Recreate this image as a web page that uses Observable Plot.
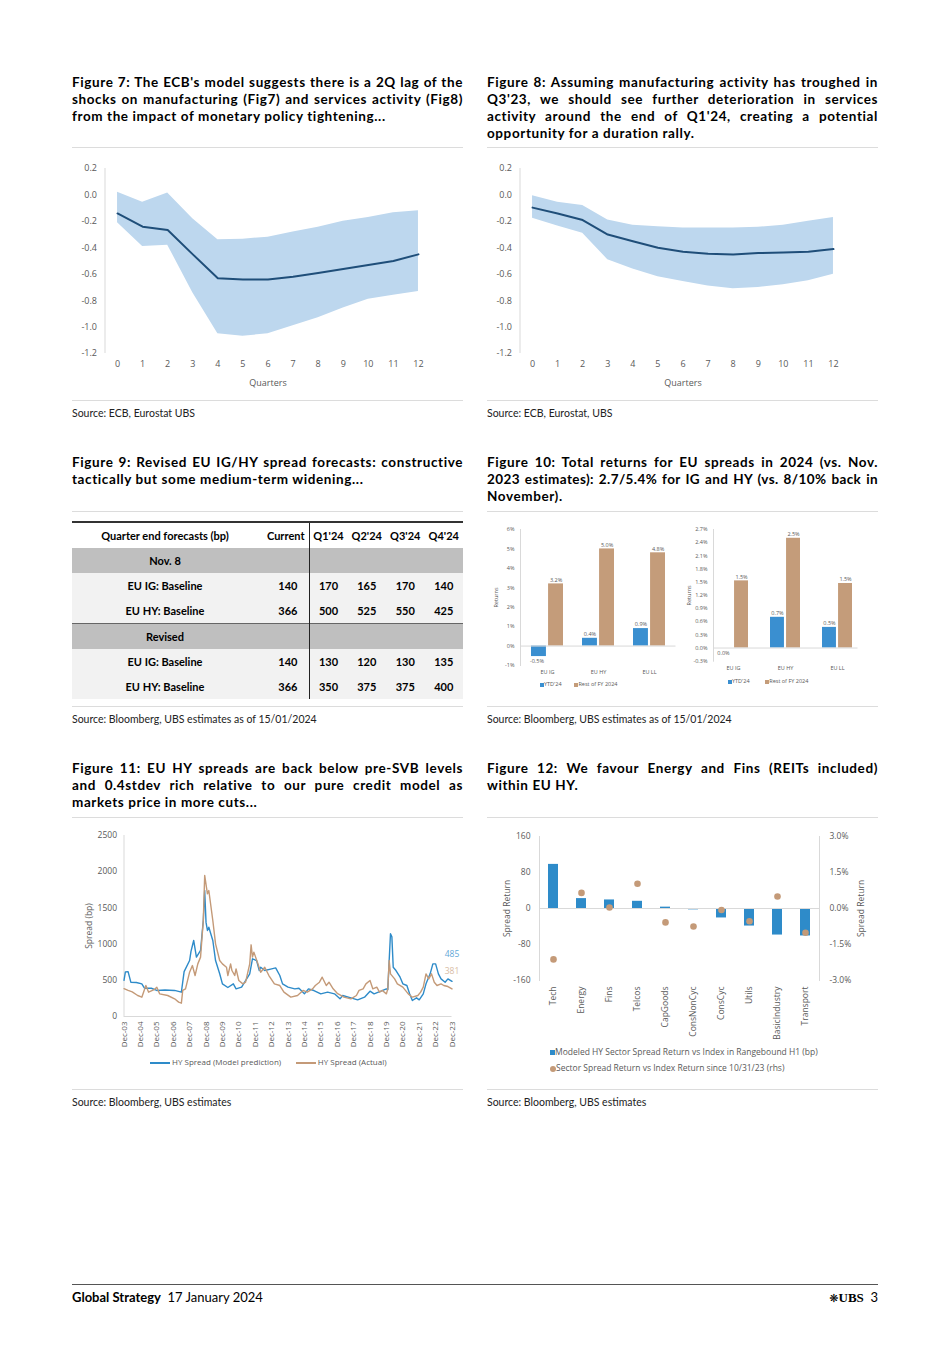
<!DOCTYPE html>
<html><head><meta charset="utf-8">
<script src="https://cdn.jsdelivr.net/npm/d3@7"></script>
<script src="https://cdn.jsdelivr.net/npm/@observablehq/plot@0.6"></script>
<style>
body{margin:0;background:#fff;font-family:Lato,"Open Sans",sans-serif;color:#000}
#page{position:relative;width:950px;height:1345px;overflow:hidden}
.abs{position:absolute}
.title{position:absolute;width:391px;font-family:Lato;font-weight:700;font-size:13.5px;line-height:17px;letter-spacing:0.6px}
.title div{text-align:justify;text-align-last:justify;white-space:nowrap}
.title div.last{text-align-last:left}
.hr{position:absolute;height:1px;width:391px;background:#dcdcdc}
.src{position:absolute;font-size:10.5px;color:#222;line-height:12px}
.leg{position:absolute;font-family:"Open Sans";color:#595959;white-space:nowrap}
.sq{display:inline-block;vertical-align:middle}
table.t{position:absolute;border-collapse:collapse;table-layout:fixed;font-family:Lato;font-weight:700;font-size:11px}
table.t td{height:25px;padding:0;text-align:center}
</style></head>
<body><div id="page">

<div class="title" style="left:72px;top:74px">
<div>Figure 7: The ECB's model suggests there is a 2Q lag of the</div>
<div>shocks on manufacturing (Fig7) and services activity (Fig8)</div>
<div class="last">from the impact of monetary policy tightening...</div>
</div>
<div class="title" style="left:487px;top:74px">
<div>Figure 8: Assuming manufacturing activity has troughed in</div>
<div>Q3'23, we should see further deterioration in services</div>
<div>activity around the end of Q1'24, creating a potential</div>
<div class="last">opportunity for a duration rally.</div>
</div>
<div class="hr" style="left:72px;top:147px"></div>
<div class="hr" style="left:487px;top:147px"></div>
<div id="f7" class="abs" style="left:72px;top:150px"></div>
<div id="f8" class="abs" style="left:487px;top:150px"></div>
<div class="hr" style="left:72px;top:400px"></div>
<div class="hr" style="left:487px;top:400px"></div>
<div class="src" style="left:72px;top:407px">Source: ECB, Eurostat UBS</div>
<div class="src" style="left:487px;top:407px">Source: ECB, Eurostat, UBS</div>

<div class="title" style="left:72px;top:454px">
<div>Figure 9: Revised EU IG/HY spread forecasts: constructive</div>
<div class="last">tactically but some medium-term widening...</div>
</div>
<div class="title" style="left:487px;top:454px">
<div>Figure 10: Total returns for EU spreads in 2024 (vs. Nov.</div>
<div style="letter-spacing:0.4px">2023 estimates): 2.7/5.4% for IG and HY (vs. 8/10% back in</div>
<div class="last">November).</div>
</div>
<div class="hr" style="left:72px;top:511px"></div>
<div class="hr" style="left:487px;top:511px"></div>
<div id="f9"></div>
<div id="f10a" class="abs" style="left:487px;top:520px"></div>
<div id="f10b" class="abs" style="left:680px;top:520px"></div>
<div class="leg" style="left:540px;top:680px;font-size:5.5px"><span class="sq" style="width:4px;height:4px;background:#3a8fd0"></span>YTD'24&nbsp;&nbsp;&nbsp;&nbsp;&nbsp;&nbsp;&nbsp;&nbsp;&nbsp;<span class="sq" style="width:4px;height:4px;background:#c49c7a"></span>Rest of FY 2024</div>
<div class="leg" style="left:728px;top:677px;font-size:5.5px"><span class="sq" style="width:4px;height:4px;background:#3a8fd0"></span>YTD'24&nbsp;&nbsp;&nbsp;&nbsp;&nbsp;&nbsp;&nbsp;&nbsp;&nbsp;&nbsp;&nbsp;<span class="sq" style="width:4px;height:4px;background:#c49c7a"></span>Rest of FY 2024</div>
<div class="hr" style="left:72px;top:706px"></div>
<div class="hr" style="left:487px;top:706px"></div>
<div class="src" style="left:72px;top:713px">Source: Bloomberg, UBS estimates as of 15/01/2024</div>
<div class="src" style="left:487px;top:713px">Source: Bloomberg, UBS estimates as of 15/01/2024</div>

<div class="title" style="left:72px;top:760px">
<div>Figure 11: EU HY spreads are back below pre-SVB levels</div>
<div>and 0.4stdev rich relative to our pure credit model as</div>
<div class="last">markets price in more cuts...</div>
</div>
<div class="title" style="left:487px;top:760px">
<div>Figure 12: We favour Energy and Fins (REITs included)</div>
<div class="last">within EU HY.</div>
</div>
<div class="hr" style="left:72px;top:817px"></div>
<div class="hr" style="left:487px;top:817px"></div>
<div id="f11" class="abs" style="left:72px;top:825px"></div>
<div id="f12" class="abs" style="left:487px;top:825px"></div>
<div class="leg" style="left:150px;top:1056px;font-size:8px"><span class="sq" style="width:20px;height:1.5px;background:#2e8bc9"></span> HY Spread (Model prediction)&nbsp;&nbsp;&nbsp;&nbsp;&nbsp;&nbsp;&nbsp;<span class="sq" style="width:20px;height:1.5px;background:#c49a78"></span> HY Spread (Actual)</div>
<div class="leg" style="left:550px;top:1044px;font-size:8.5px;line-height:16px"><span class="sq" style="width:5px;height:5px;background:#2e8bc9"></span>Modeled HY Sector Spread Return vs Index in Rangebound H1 (bp)<br><span class="sq" style="width:6px;height:6px;border-radius:3px;background:#c49a78"></span>Sector Spread Return vs Index Return since 10/31/23 (rhs)</div>
<div class="hr" style="left:72px;top:1089px"></div>
<div class="hr" style="left:487px;top:1089px"></div>
<div class="src" style="left:72px;top:1096px">Source: Bloomberg, UBS estimates</div>
<div class="src" style="left:487px;top:1096px">Source: Bloomberg, UBS estimates</div>

<div class="abs" style="left:72px;top:1284px;width:806px;height:1px;background:#555"></div>
<div class="abs" style="left:72px;top:1289px;font-size:13px;line-height:16px"><b>Global Strategy</b>&nbsp;&nbsp;17 January 2024</div>
<div class="abs" style="right:72px;top:1289px;font-size:13px;line-height:16px"><span style="font-family:'DejaVu Sans';font-size:11px">❋</span><b style="font-family:'Liberation Serif'">UBS</b>&nbsp;&nbsp;3</div>
</div>

<script>
// ---------- Figure 7 / 8 data ----------
const quarters = [0,1,2,3,4,5,6,7,8,9,10,11,12];
const irfTicks = [0.2,0,-0.2,-0.4,-0.6,-0.8,-1.0,-1.2];
const mfgMean  = [-0.14,-0.24,-0.265,-0.45,-0.63,-0.64,-0.64,-0.62,-0.59,-0.56,-0.53,-0.50,-0.45];
const mfgUpper = [0.02,-0.056,0.015,-0.18,-0.34,-0.335,-0.32,-0.28,-0.245,-0.20,-0.17,-0.135,-0.12];
const mfgLower = [-0.21,-0.39,-0.38,-0.74,-1.05,-1.07,-1.05,-0.99,-0.93,-0.855,-0.79,-0.76,-0.73];
const svcMean  = [-0.096,-0.14,-0.19,-0.30,-0.35,-0.40,-0.43,-0.445,-0.45,-0.44,-0.435,-0.43,-0.41];
const svcUpper = [-0.006,-0.056,-0.08,-0.19,-0.23,-0.24,-0.25,-0.25,-0.25,-0.245,-0.23,-0.20,-0.17];
const svcLower = [-0.177,-0.235,-0.29,-0.49,-0.56,-0.62,-0.655,-0.69,-0.71,-0.70,-0.68,-0.65,-0.60];

// ---------- Figure 9 data ----------
const tblHeader = ["Quarter end forecasts (bp)","Current","Q1'24","Q2'24","Q3'24","Q4'24"];
const tblSections = ["Nov. 8","Revised"];
const tblRowLabels = ["EU IG: Baseline","EU HY: Baseline"];
const nov8IG = [140,170,165,170,140];
const nov8HY = [366,500,525,550,425];
const revIG  = [140,130,120,130,135];
const revHY  = [366,350,375,375,400];

// ---------- Figure 10 data ----------
const retCats = ["EU IG","EU HY","EU LL"];
const novYtd  = [-0.54,0.4,0.9];
const novRest = [3.2,5.0,4.8];
const curYtd  = [0,0.7,0.47];
const curRest = [1.53,2.5,1.47];
const novTicks = [-1,0,1,2,3,4,5,6];
const curTicks = [-0.3,0,0.3,0.6,0.9,1.2,1.5,1.8,2.1,2.4,2.7];

// ---------- Figure 11 data ----------
const decTickLabels = ["Dec-03","Dec-04","Dec-05","Dec-06","Dec-07","Dec-08","Dec-09","Dec-10","Dec-11","Dec-12","Dec-13","Dec-14","Dec-15","Dec-16","Dec-17","Dec-18","Dec-19","Dec-20","Dec-21","Dec-22","Dec-23"];
const spreadTicks = [0,500,1000,1500,2000,2500];
const modelDates = ["2003-12","2004-01","2004-03","2004-05","2004-09","2005-01","2005-03","2005-08","2005-12","2006-06","2007-01","2007-06","2007-08","2007-12","2008-01","2008-03","2008-05","2008-08","2008-10","2008-11","2008-12","2009-01","2009-02","2009-05","2009-07","2009-10","2009-12","2010-04","2010-08","2010-10","2011-02","2011-05","2011-08","2011-10","2012-01","2012-03","2012-04","2012-07","2012-12","2013-03","2013-06","2013-08","2013-12","2014-05","2014-08","2014-12","2015-03","2015-07","2015-12","2016-05","2016-10","2017-02","2017-04","2017-10","2018-03","2018-08","2018-12","2019-03","2019-08","2019-12","2020-01","2020-02","2020-03","2020-04","2020-05","2020-07","2020-10","2020-12","2021-03","2021-05","2021-07","2021-10","2021-12","2022-03","2022-05","2022-08","2022-10","2022-12","2023-02","2023-04","2023-07","2023-09","2023-12"];
const modelSpread = [500,615,620,474,470,451,391,390,360,365,360,336,620,773,900,1050,820,912,1326,1740,1300,1188,1233,1050,773,590,451,400,451,382,405,497,589,797,773,635,681,635,658,672,566,451,405,382,391,313,382,359,313,336,313,244,290,258,230,267,350,313,350,382,370,773,1142,1100,681,635,543,451,428,313,221,258,230,313,451,589,727,727,589,520,474,520,485];
const actualDates = ["2003-12","2004-03","2004-06","2004-10","2005-01","2005-04","2005-06","2005-10","2005-12","2006-02","2006-08","2007-01","2007-04","2007-06","2007-07","2007-09","2007-12","2008-02","2008-04","2008-06","2008-08","2008-10","2008-11","2009-01","2009-02","2009-05","2009-07","2009-10","2009-12","2010-03","2010-04","2010-06","2010-07","2010-09","2010-10","2010-12","2011-03","2011-05","2011-08","2011-09","2011-10","2011-11","2012-02","2012-04","2012-07","2012-10","2013-02","2013-06","2013-09","2014-02","2014-07","2014-11","2015-02","2015-06","2015-08","2015-11","2016-01","2016-04","2016-06","2016-09","2016-12","2017-05","2017-10","2018-02","2018-04","2018-07","2018-09","2018-12","2019-02","2019-05","2019-07","2019-09","2019-12","2020-01","2020-02","2020-03","2020-06","2020-08","2020-12","2021-04","2021-07","2021-11","2022-01","2022-03","2022-05","2022-07","2022-09","2022-11","2023-01","2023-04","2023-06","2023-09","2023-12"];
const actualSpread = [384,360,340,290,267,428,336,370,405,313,290,244,198,184,360,382,612,704,566,727,820,1326,1948,1695,1740,1326,1004,773,727,681,566,727,635,566,658,497,451,474,727,990,820,889,727,612,681,566,451,428,336,267,290,360,336,382,428,474,543,428,474,382,320,267,244,290,360,382,451,497,382,405,336,360,313,382,773,589,520,451,405,313,267,290,336,405,589,520,589,474,428,451,428,414,381];

// ---------- Figure 12 data ----------
const sectors = ["Tech","Energy","Fins","Telcos","CapGoods","ConsNonCyc","ConsCyc","Utils","BasicIndustry","Transport"];
const modeledSpreadRet = [98,22,19,16,3,-3,-21,-39,-59,-61];
const sectorRetPct = [-2.12,0.65,0.04,1.03,-0.58,-0.75,-0.06,-0.53,0.5,-1.01];
const sprTicks = [-160,-80,0,80,160];

// ---------- colours ----------
const BAND = "#bdd7ee", NAVY = "#1f4e79", BLUE = "#2e8bc9", TAN = "#c49a78", BLUE10 = "#3a8fd0", TAN10 = "#c49c7a";
const AX = "#d9d9d9", TXT = "#595959";

function irf(mean, up, lo) {
  const data = quarters.map((q, i) => ({q, m: mean[i], u: up[i], l: lo[i]}));
  return Plot.plot({
    width: 391, height: 250, marginLeft: 32.5, marginRight: 32.5, marginTop: 18, marginBottom: 47,
    style: {fontFamily: "'Open Sans', sans-serif", fontSize: "9px", color: TXT, overflow: "visible"},
    x: {domain: [-0.5, 12.5]},
    y: {domain: [-1.2, 0.2]},
    marks: [
      Plot.areaY(data, {x: "q", y1: "l", y2: "u", fill: BAND}),
      Plot.lineY(data, {x: "q", y: "m", stroke: NAVY, strokeWidth: 2}),
      Plot.ruleX([-0.5], {stroke: AX}),
      Plot.axisY({ticks: irfTicks, tickSize: 0, tickPadding: 8, tickFormat: d => d.toFixed(1), label: null}),
      Plot.axisX({ticks: quarters, tickSize: 0, tickPadding: 7, tickFormat: d => String(d), label: "Quarters", labelAnchor: "center", labelOffset: 32, labelArrow: "none"})
    ]
  });
}
document.getElementById("f7").append(irf(mfgMean, mfgUpper, mfgLower));
document.getElementById("f8").append(irf(svcMean, svcUpper, svcLower));

// ---------- table ----------
(function () {
  const t = d3.select("#f9").append("table").attr("class", "t").style("left", "72px").style("top", "521px").style("width", "391px");
  const cg = t.append("colgroup");
  [186, 51, 38.5, 38.5, 38.5, 38.5].forEach(w => cg.append("col").style("width", w + "px"));
  const hr = t.append("tr").style("border-top", "2px solid #333");
  tblHeader.forEach((h, i) => {
    const td = hr.append("td").text(h);
    if (i === 1) td.style("text-align", "right").style("padding-right", "4px").style("border-right", "1px solid #222");
  });
  const blocks = [[nov8IG, nov8HY], [revIG, revHY]];
  tblSections.forEach((s, si) => {
    const sr = t.append("tr").style("background", "#bfbfbf");
    if (si === 1) sr.style("border-top", "1px solid #666");
    sr.append("td").text(s);
    sr.append("td").style("border-right", "1px solid #222");
    sr.append("td").attr("colspan", 4);
    blocks[si].forEach((vals, ri) => {
      const r = t.append("tr").style("background", "#f2f2f2");
      r.append("td").text(tblRowLabels[ri]);
      vals.forEach((v, i) => {
        const td = r.append("td").text(v);
        if (i === 0) td.style("text-align", "right").style("padding-right", "11px").style("border-right", "1px solid #222");
      });
    });
  });
})();

// ---------- Figure 10 ----------
function retPanel(ytd, rest, o) {
  const data = retCats.flatMap((c, i) => [{c, s: 0, v: ytd[i]}, {c, s: 1, v: rest[i]}]);
  const range = o.w - 33 - o.mr;
  const step = range / (3 - o.pi + 2 * o.po);
  const bw = step * (1 - o.pi);
  const ins = bw / 2 + 1, off = bw / 4 + 0.5;
  const lbl = d => d.v.toFixed(1) + "%";
  const ser = s => data.filter(d => d.s === s);
  return Plot.plot({
    width: o.w, height: 175, marginLeft: 33, marginRight: o.mr, marginTop: 9, marginBottom: o.mb,
    style: {fontFamily: "'Open Sans', sans-serif", fontSize: "5.5px", color: TXT, overflow: "visible"},
    x: {domain: retCats, paddingInner: o.pi, paddingOuter: o.po},
    y: {domain: o.yd},
    marks: [
      Plot.barY(ser(0), {x: "c", y: "v", fill: BLUE10, insetRight: ins, insetLeft: 0}),
      Plot.barY(ser(1), {x: "c", y: "v", fill: TAN10, insetLeft: ins, insetRight: 0}),
      Plot.ruleY([0], {stroke: AX}),
      Plot.frame({anchor: "left", stroke: AX}),
      Plot.text(ser(0).filter(d => d.v > 0), {x: "c", y: "v", text: lbl, dx: -off, dy: -4, fill: TXT}),
      Plot.text(ser(0).filter(d => d.v <= 0), {x: "c", y: "v", text: lbl, dx: -off - 2, dy: 5, fill: TXT}),
      Plot.text(ser(1), {x: "c", y: "v", text: lbl, dx: off, dy: -4, fill: TXT}),
      Plot.axisY({ticks: o.ticks, tickFormat: o.fmt, tickSize: 0, tickPadding: 6, label: "Returns", labelAnchor: "center", labelOffset: 26, labelArrow: "none"}),
      Plot.axisX({tickSize: 0, tickPadding: 5, label: null})
    ]
  });
}
document.getElementById("f10a").append(retPanel(novYtd, novRest, {w: 193, mr: 4.5, mb: 30, pi: 0.38, po: 0.19, yd: [-1, 6], ticks: novTicks, fmt: d => d + "%"}));
document.getElementById("f10b").append(retPanel(curYtd, curRest, {w: 198, mr: 20.5, mb: 34.3, pi: 0.423, po: 0.096, yd: [-0.3, 2.7], ticks: curTicks, fmt: d => d.toFixed(1) + "%"}));

// ---------- Figure 11 ----------
(function () {
  const parse = d3.utcParse("%Y-%m");
  const model = modelDates.map((d, i) => ({date: parse(d), v: modelSpread[i]}));
  const actual = actualDates.map((d, i) => ({date: parse(d), v: actualSpread[i]}));
  const decTicks = decTickLabels.map(d3.utcParse("%b-%y"));
  const p = Plot.plot({
    width: 391, height: 230, marginLeft: 51.5, marginRight: 11.5, marginTop: 10, marginBottom: 39,
    style: {fontFamily: "'Open Sans', sans-serif", fontSize: "8.5px", color: TXT, overflow: "visible"},
    x: {type: "utc", domain: [decTicks[0], decTicks[decTicks.length - 1]]},
    y: {domain: [0, 2500]},
    marks: [
      Plot.ruleX([decTicks[0]], {stroke: AX}),
      Plot.ruleY([0], {stroke: AX}),
      Plot.lineY(model, {x: "date", y: "v", stroke: BLUE, strokeWidth: 1.4}),
      Plot.lineY(actual, {x: "date", y: "v", stroke: TAN, strokeWidth: 1.4}),
      Plot.text([model[model.length - 1]], {x: "date", y: "v", text: d => String(d.v), fill: "#5fa8d8", dy: -27, fontSize: 8.5}),
      Plot.text([actual[actual.length - 1]], {x: "date", y: "v", text: d => String(d.v), fill: "#d8bba3", dy: -18, fontSize: 8.5}),
      Plot.axisY({ticks: spreadTicks, tickFormat: d => String(d), tickSize: 0, tickPadding: 7, label: "Spread (bp)", labelAnchor: "center", labelOffset: 38, labelArrow: "none"}),
      Plot.axisX({ticks: decTicks, tickFormat: d3.utcFormat("%b-%y"), tickRotate: -90, tickSize: 0, tickPadding: 5, label: null, fontSize: 8})
    ]
  });
  document.getElementById("f11").append(p);
})();

// ---------- Figure 12 ----------
(function () {
  const k = 160 / 3;
  const data = sectors.map((s, i) => ({s, b: modeledSpreadRet[i], p: sectorRetPct[i]}));
  const p = Plot.plot({
    width: 391, height: 215, marginLeft: 52, marginRight: 59, marginTop: 11, marginBottom: 60,
    style: {fontFamily: "'Open Sans', sans-serif", fontSize: "8.5px", color: TXT, overflow: "visible"},
    x: {domain: sectors, paddingInner: 0.66, paddingOuter: 0.33},
    y: {domain: [-160, 160]},
    marks: [
      Plot.barY(data, {x: "s", y: "b", fill: BLUE}),
      Plot.ruleY([0], {stroke: AX}),
      Plot.frame({anchor: "left", stroke: AX}),
      Plot.frame({anchor: "right", stroke: AX}),
      Plot.dot(data, {x: "s", y: d => d.p * k, fill: TAN, r: 3.3}),
      Plot.axisY({anchor: "left", ticks: sprTicks, tickFormat: d => String(d), tickSize: 0, tickPadding: 9, label: "Spread Return", labelAnchor: "center", labelOffset: 36, labelArrow: "none"}),
      Plot.axisY({anchor: "right", ticks: sprTicks, tickSize: 0, tickPadding: 10, tickFormat: v => (v / k).toFixed(1) + "%", label: "Spread Return", labelAnchor: "center", labelOffset: 44, labelArrow: "none"}),
      Plot.axisX({tickRotate: -90, tickSize: 0, tickPadding: 6, label: null})
    ]
  });
  document.getElementById("f12").append(p);
})();
</script>
</body></html>
